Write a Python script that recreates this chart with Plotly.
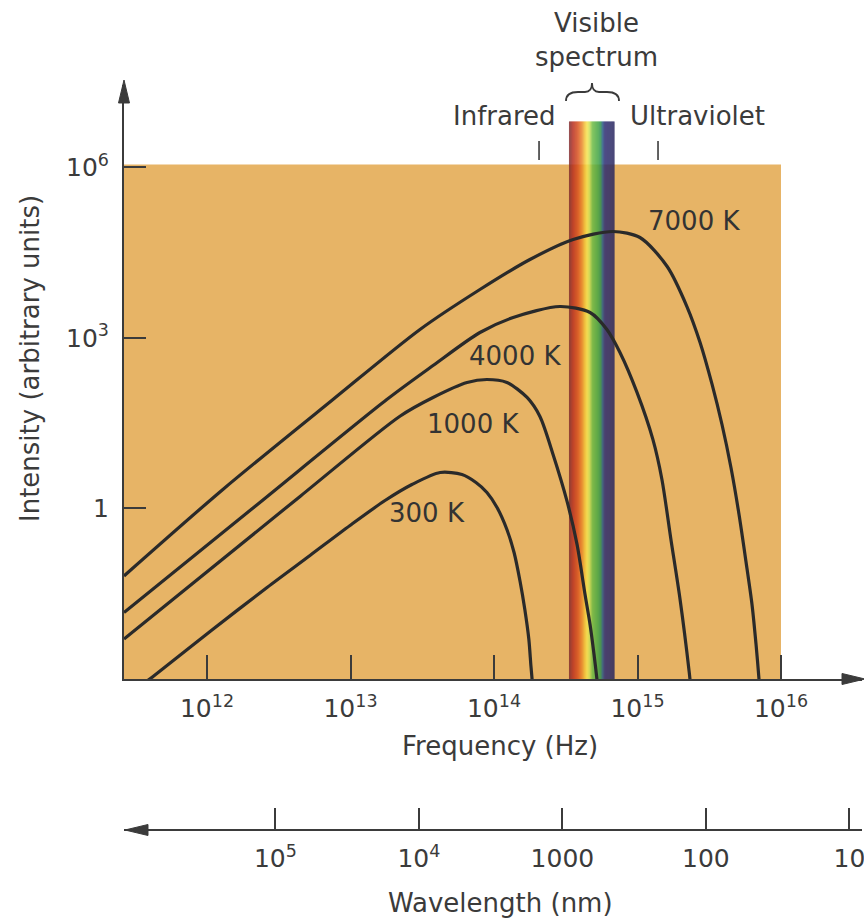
import math
import plotly.graph_objects as go

# ---------------- data ----------------
freq_7000 = [2.64e11, 1.29e12, 7.55e12, 3.05e13, 7.98e13, 1.78e14, 3.56e14, 6.75e14,
             1.04e15, 1.61e15, 2.21e15, 2.73e15, 3.31e15, 3.88e15, 4.48e15, 5.10e15,
             5.70e15, 6.28e15, 6.70e15, 7.03e15, 7.14e15]
int_7000 = [0.065, 2.16, 82.6, 1409, 7112, 23990, 53950, 74650,
            58480, 18070, 3573, 832, 152, 30.0, 5.26, 0.784,
            0.117, 0.0205, 0.00405, 0.00098, 0.000535]

freq_4000 = [2.64e11, 2.20e12, 1.79e13, 3.76e13, 7.98e13, 1.36e14, 2.88e14, 4.67e14,
             6.12e14, 7.55e14, 9.92e14, 1.28e15, 1.48e15, 1.71e15, 1.98e15, 2.29e15,
             2.36e15]
int_4000 = [0.0148, 1.13, 82.6, 327, 1247, 2291, 3573, 2805,
            1409, 555, 110, 16.4, 3.24, 0.285, 0.0251, 0.00136,
            0.00065]

freq_1000 = [2.64e11, 4.45e12, 2.21e13, 3.76e13, 6.49e13, 8.93e13, 1.23e14, 1.70e14,
             2.09e14, 2.58e14, 3.23e14, 3.79e14, 4.31e14, 4.67e14, 4.98e14, 5.22e14,
             5.31e14]
int_1000 = [0.00506, 1.63, 42.0, 89.7, 164.6, 185.8, 164.6, 89.7,
            41.5, 8.91, 1.33, 0.233, 0.0307, 0.00912, 0.0027, 0.00098,
            0.00065]

freq_300 = [3.70e11, 4.21e11, 1.05e12, 2.62e12, 5.22e12, 9.92e12, 1.74e13, 2.68e13,
            4.21e13, 5.98e13, 7.49e13, 8.93e13, 1.05e14, 1.23e14, 1.38e14, 1.52e14,
            1.64e14, 1.75e14, 1.81e14, 1.87e14]
int_300 = [0.000869, 0.00111, 0.00686, 0.0408, 0.149, 0.502, 1.38, 2.64,
           4.30, 3.96, 2.87, 1.91, 1.04, 0.427, 0.168, 0.0520,
           0.0167, 0.00496, 0.00166, 0.00065]

curve_names = ["7000 K", "4000 K", "1000 K", "300 K"]
curve_freqs = [freq_7000, freq_4000, freq_1000, freq_300]
curve_ints = [int_7000, int_4000, int_1000, int_300]
# label anchor points (Hz, intensity)
label_freq = [2.48e15, 1.40e14, 7.15e13, 3.41e13]
label_int = [1.12e5, 472, 30.1, 0.817]

freq_ticks = [1e12, 1e13, 1e14, 1e15, 1e16]
freq_ticktext = ["10<sup>12</sup>", "10<sup>13</sup>", "10<sup>14</sup>", "10<sup>15</sup>", "10<sup>16</sup>"]
int_ticks = [1, 1e3, 1e6]
int_ticktext = ["1", "10<sup>3</sup>", "10<sup>6</sup>"]
wl_ticks = [1e5, 1e4, 1e3, 1e2, 1e1]
wl_ticktext = ["10<sup>5</sup>", "10<sup>4</sup>", "1000", "100", "10"]

visible_band_hz = [3.33e14, 6.91e14]
visible_band_top = 6.4e6
box_freq_max = 1e16
box_int_max = 1.12e6
region_ticks_hz = [2.06e14, 1.39e15]   # Infrared / Ultraviolet marks

band_stops = [0.00, 0.09, 0.20, 0.29, 0.35, 0.40, 0.45, 0.52, 0.64, 0.70, 0.74, 0.79, 1.00]
band_colors = ["#7B2B2F", "#B9301F", "#D9531E", "#E98A2A", "#F2C238", "#F5E34E",
               "#CFE056", "#6CBA44", "#45A644", "#2E8F4E", "#2A5C86", "#2F2E72", "#2A2760"]

# ---------------- geometry ----------------
W, H = 864, 922
L, R, T, B = 124, 862, 85, 830
PW, PH = R - L, B - T
Y_AX_BOTTOM = 679
x_range = [11.4216, 16.5645]
y_range = [-3.0, 7.45]
C_NM = 2.998e17

INK = "#3b3b3b"
FONT = "DejaVu Sans"


def px(x):
    return (x - L) / PW


def py(y):
    return (B - y) / PH


def P(x, y):
    return f"{px(x):.5f},{py(y):.5f}"


def hex2rgb(h):
    h = h.lstrip("#")
    return tuple(int(h[i:i + 2], 16) for i in (0, 2, 4))


def band_color(t):
    for i in range(len(band_stops) - 1):
        if band_stops[i] <= t <= band_stops[i + 1]:
            f = (t - band_stops[i]) / (band_stops[i + 1] - band_stops[i])
            a, b = hex2rgb(band_colors[i]), hex2rgb(band_colors[i + 1])
            c = [round(a[k] + (b[k] - a[k]) * f) for k in range(3)]
            return f"rgb({c[0]},{c[1]},{c[2]})"
    return band_colors[-1]


fig = go.Figure()

for name, fx, fy in zip(curve_names, curve_freqs, curve_ints):
    fig.add_trace(go.Scatter(x=fx, y=fy, mode="lines", name=name,
                             line=dict(color="#2a2a2a", width=3.2, shape="spline", smoothing=0.8),
                             showlegend=False, hoverinfo="skip"))

# carrier trace for the wavelength axis
fig.add_trace(go.Scatter(x=[1000], y=[1e-9], xaxis="x2", yaxis="y", mode="markers",
                         marker=dict(opacity=0), showlegend=False, hoverinfo="skip"))

shapes = []
# orange panel
shapes.append(dict(type="rect", xref="x", yref="y", x0=1e11, x1=box_freq_max, y0=1e-4, y1=box_int_max,
                   fillcolor="#E7B466", line=dict(width=0), layer="below"))
# rainbow band
n = 90
lo, hi = visible_band_hz
for i in range(n):
    f0 = lo * (hi / lo) ** (i / n)
    f1 = lo * (hi / lo) ** ((i + 1.3) / n) if i < n - 1 else hi
    shapes.append(dict(type="rect", xref="x", yref="y", x0=f0, x1=f1, y0=1e-4, y1=visible_band_top,
                       fillcolor=band_color((i + 0.5) / n), line=dict(width=0), layer="below"))
# infrared / ultraviolet marks
for f in region_ticks_hz:
    shapes.append(dict(type="line", xref="x", yref="paper", x0=f, x1=f, y0=py(160), y1=py(141),
                       line=dict(color=INK, width=1.6)))
# brace
brace = ("M " + P(566, 101) + " Q " + P(566, 92) + " " + P(578, 92) + " L " + P(585, 92) +
         " Q " + P(592, 92) + " " + P(592, 83) + " Q " + P(592, 92) + " " + P(599, 92) +
         " L " + P(607, 92) + " Q " + P(619, 92) + " " + P(619, 101))
shapes.append(dict(type="path", xref="paper", yref="paper", path=brace, line=dict(color=INK, width=1.8)))
# arrowheads
shapes.append(dict(type="path", xref="paper", yref="paper",
                   path="M " + P(124, 80) + " L " + P(118.5, 103) + " L " + P(129.5, 103) + " Z",
                   fillcolor=INK, line=dict(color=INK, width=1)))
shapes.append(dict(type="path", xref="paper", yref="paper",
                   path="M " + P(865, 679) + " L " + P(842, 673.5) + " L " + P(842, 684.5) + " Z",
                   fillcolor=INK, line=dict(color=INK, width=1)))
shapes.append(dict(type="path", xref="paper", yref="paper",
                   path="M " + P(125, 830) + " L " + P(148, 824.5) + " L " + P(148, 835.5) + " Z",
                   fillcolor=INK, line=dict(color=INK, width=1)))

annotations = []
for name, lf, li in zip(curve_names, label_freq, label_int):
    annotations.append(dict(x=math.log10(lf), y=math.log10(li), xref="x", yref="y", text=name,
                            showarrow=False, font=dict(family=FONT, size=26, color="#333333"),
                            xanchor="center", yanchor="middle"))


def txt(text, x, y, size=26, angle=0):
    annotations.append(dict(x=px(x), y=py(y), xref="paper", yref="paper", text=text, showarrow=False,
                            textangle=angle, font=dict(family=FONT, size=size, color=INK),
                            xanchor="center", yanchor="middle"))


txt("Visible<br>spectrum", 596, 40)
txt("Infrared", 504, 116)
txt("Ultraviolet", 697, 116)
txt("Frequency (Hz)", 500, 746)
txt("Wavelength (nm)", 500, 903)
txt("Intensity (arbitrary units)", 30, 359, angle=-90)

axis_common = dict(showgrid=False, zeroline=False, showline=True, linecolor=INK, linewidth=2,
                   ticks="inside", tickcolor=INK, tickwidth=2, automargin=False,
                   ticklabeloverflow="allow",
                   tickfont=dict(family=FONT, size=25, color=INK))

fig.update_layout(
    width=W, height=H,
    margin=dict(l=L, r=W - R, t=T, b=H - B),
    paper_bgcolor="white", plot_bgcolor="rgba(0,0,0,0)",
    xaxis=dict(type="log", range=x_range, tickvals=freq_ticks, ticktext=freq_ticktext,
               ticklen=24, anchor="y", ticklabelstandoff=6, **axis_common),
    yaxis=dict(type="log", range=y_range, tickvals=int_ticks, ticktext=int_ticktext,
               ticklen=22, domain=[py(Y_AX_BOTTOM), 1], ticklabelstandoff=8, **axis_common),
    xaxis2=dict(type="log", overlaying="x", anchor="free", position=0, side="bottom",
                range=[math.log10(C_NM) - x_range[0], math.log10(C_NM) - x_range[1]],
                tickvals=wl_ticks, ticktext=wl_ticktext, ticklen=21, ticklabelstandoff=6,
                **axis_common),
    shapes=shapes,
    annotations=annotations,
)

fig.write_html("out.html", config={"displayModeBar": False},
               post_script="document.body.style.margin='0';document.body.style.overflow='hidden';")
